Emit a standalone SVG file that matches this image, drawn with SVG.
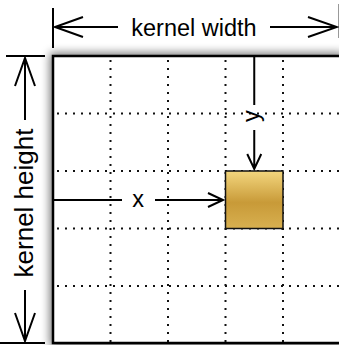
<svg xmlns="http://www.w3.org/2000/svg" width="339" height="345" viewBox="0 0 339 345">
  <defs>
    <linearGradient id="gold" x1="0" y1="0" x2="0" y2="1">
      <stop offset="0" stop-color="#f3d67e"/>
      <stop offset="0.55" stop-color="#c89a38"/>
      <stop offset="1" stop-color="#d8b050"/>
    </linearGradient>
    <filter id="shadow" x="-20%" y="-20%" width="140%" height="140%">
      <feGaussianBlur stdDeviation="5"/>
    </filter>
  </defs>
  <style>
    .dim { stroke: #000; stroke-width: 2; fill: none; }
    .tick { stroke: #000; stroke-width: 2; fill: none; }
    .dot { stroke: #111; stroke-width: 2; stroke-dasharray: 2 6; fill: none; }
    .lbl { font-family: "Liberation Sans", Arial, sans-serif; fill: #000; text-anchor: middle; }
  </style>
  <rect width="339" height="345" fill="#fff"/>

  <g id="grid">
    <rect x="50" y="53" width="294" height="294" fill="#000" opacity="0.55" filter="url(#shadow)"/>
    <rect x="53" y="56" width="288" height="287" fill="#fff"/>
    <path class="dot" d="M110.5 60V343 M168 60V343 M225.5 60V343 M283 60V343"/>
    <path class="dot" d="M57 113.5H341 M57 171H341 M57 228.5H341 M57 286H341"/>
    <rect x="53" y="56" width="288" height="287" fill="none" stroke="#000" stroke-width="2.5"/>
  </g>

  <g id="target">
    <rect x="225.5" y="171" width="57.5" height="57.5" fill="url(#gold)" stroke="#111" stroke-width="1.5"/>
  </g>

  <g id="connectors">
    <!-- kernel width -->
    <path class="tick" d="M53 8V48"/>
    <path d="M338.5 4V38" stroke="#999" stroke-width="1" fill="none"/>
    <path class="dim" d="M55 27H118 M83 17L55 27L83 37"/>
    <path class="dim" d="M270 27H337 M308 17L337 27L308 37"/>
    <!-- kernel height -->
    <path class="tick" d="M6 56H45 M0 343H45"/>
    <path class="dim" d="M25 58V120 M15 86L25 58L35 86"/>
    <path class="dim" d="M25 290V341 M15 313L25 341L35 313"/>
    <!-- x -->
    <path class="dim" d="M53 200H122 M155 200H223 M208 193L223 200L208 207"/>
    <!-- y -->
    <path class="dim" d="M254.25 56V105 M254.25 130V169 M247.25 154L254.25 169L261.25 154"/>
  </g>

  <g id="labels">
    <text class="lbl" x="194" y="36" font-size="23.5">kernel width</text>
    <text class="lbl" transform="translate(33 203) rotate(-90)" font-size="26">kernel height</text>
    <text class="lbl" x="138" y="207" font-size="23.5">x</text>
    <text class="lbl" transform="translate(259 116) rotate(-90)" font-size="23.5">y</text>
  </g>
</svg>
